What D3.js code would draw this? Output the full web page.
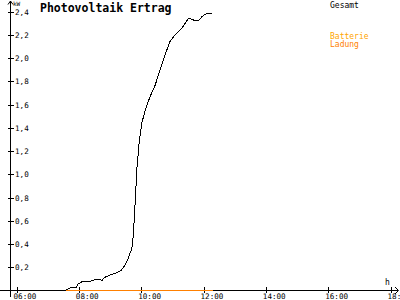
<!DOCTYPE html>
<html>
<head>
<meta charset="utf-8">
<script src="https://cdn.jsdelivr.net/npm/d3@7"></script>
<style>
  body { margin: 0; background: #fff; }
  text { font-family: "DejaVu Sans Mono", monospace; }
</style>
</head>
<body>
<div id="chart"></div>
<script>
// Gesamt (kW) over the day
var gesamtTimes = ["07:36","07:44","07:57","07:58","08:06","08:19","08:32","08:42","08:45","08:51",
  "09:01","09:14","09:23","09:30","09:36","09:43","09:45","09:47","09:51","09:53","09:57",
  "10:02","10:08","10:11","10:18","10:28","10:37","10:47","10:56","11:06","11:19","11:32",
  "11:35","11:41","11:51","11:58","12:07","12:17"];
var gesamtValues = [0, 0.017, 0.023, 0.046, 0.069, 0.069, 0.089, 0.092, 0.08, 0.109,
  0.129, 0.149, 0.172, 0.215, 0.272, 0.358, 0.43, 0.56, 0.887, 1.06, 1.262,
  1.434, 1.533, 1.577, 1.663, 1.763, 1.892, 2.022, 2.136, 2.194, 2.251, 2.337,
  2.337, 2.323, 2.316, 2.351, 2.38, 2.38];

// Batterie Ladung (kW)
var ladungTimes = ["07:36", "12:19"];
var ladungValues = [0, 0];

var xTickLabels = ["06:00","08:00","10:00","12:00","14:00","16:00","18:00"];
var yTicks = [0.2,0.4,0.6,0.8,1.0,1.2,1.4,1.6,1.8,2.0,2.2,2.4];

function hours(s) {
  var p = s.split(":");
  return +p[0] + p[1] / 60;
}

var width = 400, height = 300;

var svg = d3.select("#chart").append("svg")
  .attr("width", width)
  .attr("height", height);

var x = d3.scaleLinear().domain([6, 18]).range([16, 390]);
var y = d3.scaleLinear().domain([0, 2.4]).range([290, 11]);

// y axis ticks + labels
var yAxis = d3.axisLeft(y).tickValues(yTicks).tickSize(6)
  .tickFormat(function(d) { return d3.format(".1f")(d).replace(".", ","); });
var gy = svg.append("g")
  .attr("transform", "translate(13.5,0.5)")
  .call(yAxis);
gy.select(".domain").remove();
gy.selectAll("line").attr("stroke", "#000").attr("shape-rendering", "crispEdges");
gy.selectAll("text")
  .attr("x", 1.5).attr("dy", "0.35em")
  .attr("text-anchor", "start")
  .style("font-size", "7.6px")
  .attr("fill", "#000");

// x axis ticks + labels
var xAxis = d3.axisBottom(x).tickValues(xTickLabels.map(hours)).tickSize(6)
  .tickFormat(function(d, i) { return xTickLabels[i]; });
var gx = svg.append("g")
  .attr("transform", "translate(0.5,287)")
  .call(xAxis);
gx.select(".domain").remove();
gx.selectAll("line").attr("stroke", "#000").attr("shape-rendering", "crispEdges");
gx.selectAll("text")
  .attr("x", -3.5).attr("y", 12).attr("dy", 0)
  .attr("text-anchor", "start")
  .style("font-size", "7.6px")
  .attr("fill", "#000");

// axis lines with arrows
var axes = svg.append("g").attr("stroke", "#000").attr("fill", "none")
  .attr("shape-rendering", "crispEdges");
axes.append("line").attr("x1", 10.5).attr("x2", 10.5).attr("y1", 1).attr("y2", 297);
axes.append("line").attr("x1", 0).attr("x2", 398).attr("y1", 290.5).attr("y2", 290.5);
svg.append("path")
  .attr("d", "M8,4.5L10.5,1L13,4.5")
  .attr("stroke", "#000").attr("fill", "none");
svg.append("path")
  .attr("d", "M395,287L398.5,290.5L395,294")
  .attr("stroke", "#000").attr("fill", "none");

svg.append("text").attr("x", 13).attr("y", 6).text("kW")
  .style("font-size", "6px");
svg.append("text").attr("x", 385).attr("y", 284.5).text("h")
  .style("font-size", "8px");

// series
var line = d3.line()
  .x(function(d) { return x(d[0]); })
  .y(function(d) { return y(d[1]); });

svg.append("path")
  .datum(ladungTimes.map(function(t, i) { return [hours(t), ladungValues[i]]; }))
  .attr("d", line)
  .attr("transform", "translate(0,0.5)")
  .attr("fill", "none")
  .attr("stroke", "#ff8000")
  .attr("shape-rendering", "crispEdges");

svg.append("path")
  .datum(gesamtTimes.map(function(t, i) { return [hours(t), gesamtValues[i]]; }))
  .attr("d", line)
  .attr("fill", "none")
  .attr("stroke", "#000")
  .attr("stroke-width", 1)
  .attr("shape-rendering", "crispEdges");

// title
svg.append("text")
  .attr("x", 40).attr("y", 11.5)
  .text("Photovoltaik Ertrag")
  .style("font-size", "11.5px")
  .style("font-weight", "bold");

// legend
svg.append("text").attr("x", 330).attr("y", 7.5).text("Gesamt")
  .style("font-size", "8px").attr("fill", "#000");
svg.append("text").attr("x", 330).attr("y", 39).text("Batterie")
  .style("font-size", "8px").attr("fill", "#ffa500");
svg.append("text").attr("x", 330).attr("y", 46.5).text("Ladung")
  .style("font-size", "8px").attr("fill", "#ff8000");
</script>
</body>
</html>
